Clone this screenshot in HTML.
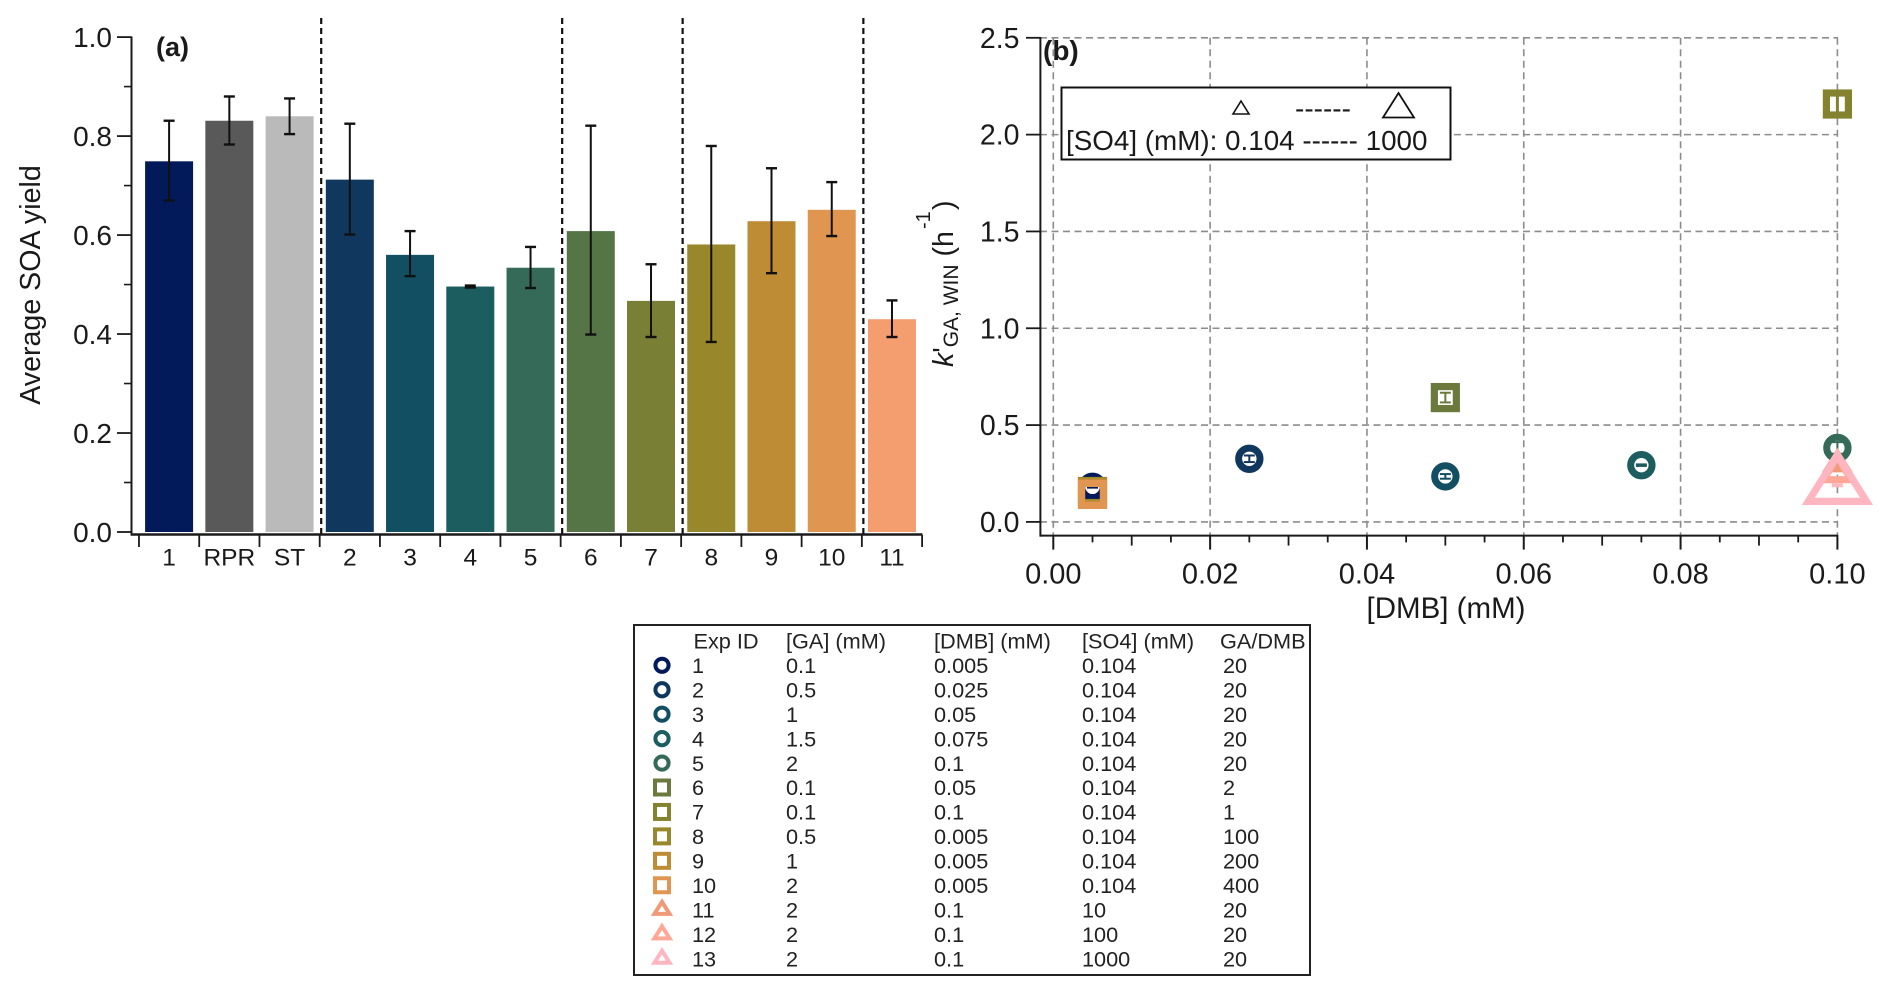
<!DOCTYPE html>
<html lang="en">
<head>
<meta charset="utf-8">
<title>SOA yield and k'GA,WIN charts</title>
<style>
html,body{margin:0;padding:0;background:#fff;width:1892px;height:994px;overflow:hidden}
svg{display:block}
text{font-family:"Liberation Sans",Arial,sans-serif;fill:#1a1a1a}
.tb text{font-size:21.7px;fill:#222;transform:translateY(-1px)}
</style>
</head>
<body>
<svg id="fig" width="1892" height="994" viewBox="0 0 1892 994" xmlns="http://www.w3.org/2000/svg">
  <g id="panelA">
    <text x="156" y="56" font-size="27" font-weight="bold">(a)</text>
    <text transform="translate(40,285) rotate(-90)" text-anchor="middle" font-size="28.6">Average SOA yield</text>
  </g>
  <g id="panelB">
    <text x="1446" y="618" text-anchor="middle" font-size="29.5">[DMB] (mM)</text>
    <g>
      <text transform="translate(953,367) rotate(-90)" font-size="28.5"><tspan font-style="italic">k</tspan><tspan>'</tspan><tspan font-size="21" dy="5">GA, WIN</tspan><tspan dy="-5"> (h</tspan></text>
      <text transform="translate(930,229) rotate(-90)" font-size="20">-1</text>
      <text transform="translate(953,210) rotate(-90)" font-size="28.5">)</text>
    </g>
  </g>
  <g id="overlayB">
    <text x="1043" y="60" font-size="28" font-weight="bold">(b)</text>
    <rect x="1061.5" y="87.5" width="389" height="72" fill="#fff" stroke="#111" stroke-width="2"/>
    <polygon points="1241,101 1249,114 1233,114" fill="none" stroke="#111" stroke-width="1.6"/>
    <text x="1295" y="118" font-size="28">------</text>
    <polygon points="1398.5,93 1414,117.5 1383,117.5" fill="none" stroke="#111" stroke-width="1.8"/>
    <text x="1066" y="150" font-size="27.8">[SO4] (mM): 0.104 ------ 1000</text>
  </g>
  <g class="tb">
    <rect x="634" y="625" width="676" height="350" fill="#fff" stroke="#222" stroke-width="2"/>
    <g id="tableMarkers"></g>
    <g><text x="693.5" y="649.5">Exp ID</text><text x="786" y="649.5">[GA] (mM)</text><text x="934" y="649.5">[DMB] (mM)</text><text x="1082" y="649.5">[SO4] (mM)</text><text x="1220" y="649.5">GA/DMB</text></g>
    <g><text x="692" y="674">1</text><text x="786" y="674">0.1</text><text x="934" y="674">0.005</text><text x="1082" y="674">0.104</text><text x="1223" y="674">20</text></g>
    <g><text x="692" y="698.4">2</text><text x="786" y="698.4">0.5</text><text x="934" y="698.4">0.025</text><text x="1082" y="698.4">0.104</text><text x="1223" y="698.4">20</text></g>
    <g><text x="692" y="722.9">3</text><text x="786" y="722.9">1</text><text x="934" y="722.9">0.05</text><text x="1082" y="722.9">0.104</text><text x="1223" y="722.9">20</text></g>
    <g><text x="692" y="747.3">4</text><text x="786" y="747.3">1.5</text><text x="934" y="747.3">0.075</text><text x="1082" y="747.3">0.104</text><text x="1223" y="747.3">20</text></g>
    <g><text x="692" y="771.8">5</text><text x="786" y="771.8">2</text><text x="934" y="771.8">0.1</text><text x="1082" y="771.8">0.104</text><text x="1223" y="771.8">20</text></g>
    <g><text x="692" y="796.2">6</text><text x="786" y="796.2">0.1</text><text x="934" y="796.2">0.05</text><text x="1082" y="796.2">0.104</text><text x="1223" y="796.2">2</text></g>
    <g><text x="692" y="820.6">7</text><text x="786" y="820.6">0.1</text><text x="934" y="820.6">0.1</text><text x="1082" y="820.6">0.104</text><text x="1223" y="820.6">1</text></g>
    <g><text x="692" y="845.1">8</text><text x="786" y="845.1">0.5</text><text x="934" y="845.1">0.005</text><text x="1082" y="845.1">0.104</text><text x="1223" y="845.1">100</text></g>
    <g><text x="692" y="869.5">9</text><text x="786" y="869.5">1</text><text x="934" y="869.5">0.005</text><text x="1082" y="869.5">0.104</text><text x="1223" y="869.5">200</text></g>
    <g><text x="692" y="894">10</text><text x="786" y="894">2</text><text x="934" y="894">0.005</text><text x="1082" y="894">0.104</text><text x="1223" y="894">400</text></g>
    <g><text x="692" y="918.4">11</text><text x="786" y="918.4">2</text><text x="934" y="918.4">0.1</text><text x="1082" y="918.4">10</text><text x="1223" y="918.4">20</text></g>
    <g><text x="692" y="942.8">12</text><text x="786" y="942.8">2</text><text x="934" y="942.8">0.1</text><text x="1082" y="942.8">100</text><text x="1223" y="942.8">20</text></g>
    <g><text x="692" y="967.3">13</text><text x="786" y="967.3">2</text><text x="934" y="967.3">0.1</text><text x="1082" y="967.3">1000</text><text x="1223" y="967.3">20</text></g>
  </g>
</svg>
<script>
// Panel (a) data
const barCategories = ['1','RPR','ST','2','3','4','5','6','7','8','9','10','11'];
const barValues = [0.749,0.831,0.840,0.712,0.560,0.496,0.534,0.608,0.467,0.581,0.628,0.651,0.430];
const barErrHigh = [0.831,0.880,0.876,0.825,0.608,0.498,0.576,0.821,0.541,0.780,0.735,0.707,0.468];
const barErrLow = [0.670,0.783,0.804,0.601,0.517,0.494,0.493,0.399,0.394,0.384,0.523,0.598,0.394];
const barColors = ['#02195a','#595959','#bababa','#10385e','#134f63','#1c5d60','#346a57','#557546','#7a7f36','#99872c','#bd8c34','#e09650','#f49e70'];
const yTicksA = ['0.0','0.2','0.4','0.6','0.8','1.0'];
const yMinorTicksA = [0.1,0.3,0.5,0.7,0.9];
const groupBreaksA = [3,7,9,12];

// Panel (b) data
const expIds = [1,2,3,4,5,6,7,8,9,10,11,12,13];
const expDMB = [0.005,0.025,0.05,0.075,0.1,0.05,0.1,0.005,0.005,0.005,0.1,0.1,0.1];
const expK = [0.181,0.326,0.235,0.293,0.382,0.642,2.158,0.157,0.150,0.142,0.300,0.258,0.189];
const expErr = [0.004,0.017,0.012,0.004,0.030,0.025,0.050,0,0,0,0,0,0.005];
const expShapes = ['circle','circle','circle','circle','circle','square','square','square','square','square','triangle','triangle','triangle'];
const expSO4 = [0.104,0.104,0.104,0.104,0.104,0.104,0.104,0.104,0.104,0.104,10,100,1000];
const expColors = ['#02195a','#10385e','#134f63','#1c5d60','#346a57','#6b7a3c','#85822f','#99872c','#bd8c34','#e09650','#ef9a78','#ffa898','#ffb6c1'];
const xTicksB = ['0.00','0.02','0.04','0.06','0.08','0.10'];
const yTicksB = ['0.0','0.5','1.0','1.5','2.0','2.5'];

// Axis functions
const yA = v => 532 - v * 494.9;
const xA = i => 169.1 + i * 60.24;
const xB = v => 1053.3 + v * 7841;
const yB = v => 521.9 - v * 193.64;
const triScale = so4 => so4 >= 1000 ? 1 : (so4 >= 100 ? 0.483 : 0.31);

const NS = 'http://www.w3.org/2000/svg';
function add(parent, tag, attrs, txt) {
  const el = document.createElementNS(NS, tag);
  for (const k in attrs) el.setAttribute(k, attrs[k]);
  if (txt !== undefined) el.textContent = txt;
  parent.appendChild(el);
  return el;
}
function ln(parent, x1, y1, x2, y2, color, w, dash) {
  const a = {x1:x1, y1:y1, x2:x2, y2:y2, stroke:color, 'stroke-width':w};
  if (dash) a['stroke-dasharray'] = dash;
  return add(parent, 'line', a);
}
const INK = '#1a1a1a';
const panelA = document.getElementById('panelA');
const panelB = document.getElementById('panelB');
const tableMarkers = document.getElementById('tableMarkers');

// ---------- Panel (a) ----------
barCategories.forEach((c, i) => {
  const x = xA(i), top = yA(barValues[i]);
  const bar = add(panelA, 'rect', {x:x-24, y:top, width:48, height:532-top, fill:barColors[i]});
  
  
});
barCategories.forEach((c, i) => {
  const x = xA(i), hi = yA(barErrHigh[i]), lo = yA(barErrLow[i]);
  const g = add(panelA, 'g', {});
  
  
  ln(g, x, hi, x, lo, '#111', 2);
  ln(g, x-5.5, hi, x+5.5, hi, '#111', 2.4);
  ln(g, x-5.5, lo, x+5.5, lo, '#111', 2.4);
});
groupBreaksA.forEach(b => {
  const x = xA(b) - 30.12 + 1.5;
  const d = ln(panelA, x, 18, x, 534, '#111', 2.2, '6 4');
  
  
});
const yAxisA = ln(panelA, 131.5, 36.5, 131.5, 535.5, INK, 2);


const xAxisA = ln(panelA, 131, 534.5, 922.5, 534.5, INK, 2.4);


yTicksA.forEach(t => {
  const y = yA(parseFloat(t));
  const tick = ln(panelA, 117, y, 131.5, y, INK, 1.8);
  
  
  const lab = add(panelA, 'text', {x:112, y:y+10, 'text-anchor':'end', 'font-size':28}, t);
  
  
});
yMinorTicksA.forEach(v => {
  const tick = ln(panelA, 124, yA(v), 131.5, yA(v), INK, 1.6);
  
  
});
barCategories.forEach((c, i) => {
  const tx = xA(i) - 30.12;
  const tick = ln(panelA, tx, 535, tx, 547, INK, 1.8);
  
  
  const lab = add(panelA, 'text', {x:xA(i), y:565.5, 'text-anchor':'middle', 'font-size':24.5}, c);
  
  
});
const endTick = ln(panelA, xA(12)+30.12, 535, xA(12)+30.12, 547, INK, 1.8);



// ---------- Panel (b) ----------
xTicksB.forEach(t => {
  const x = xB(parseFloat(t));
  const g = ln(panelB, x, 37.8, x, 535, '#8c8c8c', 1.6, '7 4.5');
  
  
  const tick = ln(panelB, x, 535, x, 549.6, INK, 2);
  
  
  const lab = add(panelB, 'text', {x:x, y:583.5, 'text-anchor':'middle', 'font-size':29}, t);
  
  
});
for (let n = 1; n < 20; n++) {
  if (n % 4 === 0) continue;
  const x = xB(n * 0.005);
  const tick = ln(panelB, x, 535, x, n % 2 === 0 ? 545.6 : 542.4, INK, 1.8);
  
  
}
yTicksB.forEach(t => {
  const y = yB(parseFloat(t));
  const g = ln(panelB, 1040, y, 1838, y, '#8c8c8c', 1.6, '7 4.5');
  
  
  const tick = ln(panelB, 1026, y, 1040.4, y, INK, 1.8);
  
  
  const lab = add(panelB, 'text', {x:1019.5, y:y+10, 'text-anchor':'end', 'font-size':28.5}, t);
  
  
});
const yAxisB = ln(panelB, 1040.4, 37, 1040.4, 536.6, INK, 2);


const xAxisB = ln(panelB, 1040, 535.6, 1838, 535.6, INK, 2);



function marker(parent, shape, cx, cy, color, opts) {
  if (shape === 'circle') {
    return add(parent, 'circle', {cx:cx, cy:cy, r:opts.r, fill:'none', stroke:color, 'stroke-width':opts.sw});
  }
  if (shape === 'square') {
    return add(parent, 'rect', {x:cx-opts.r, y:cy-opts.r, width:opts.r*2, height:opts.r*2, fill:'none', stroke:color, 'stroke-width':opts.sw});
  }
  const k = opts.k;
  const pts = [[cx, cy-30.2*k], [cx+29.1*k, cy+16.05*k], [cx-29.1*k, cy+16.05*k]].map(p => p.join(',')).join(' ');
  return add(parent, 'polygon', {points:pts, fill:'none', stroke:color, 'stroke-width':opts.sw, 'stroke-linejoin':'miter', 'stroke-miterlimit':6});
}

expIds.forEach((id, i) => {
  const x = xB(expDMB[i]), y = yB(expK[i]), col = expColors[i], shape = expShapes[i];
  const g = add(panelB, 'g', {});
  
  
  if (expErr[i] > 0) {
    const hi = yB(expK[i] + expErr[i]), lo = yB(expK[i] - expErr[i]);
    ln(g, x, hi, x, lo, col, shape === 'square' && expErr[i] > 0.04 ? 3 : 2);
    ln(g, x-5.5, hi, x+5.5, hi, col, 2);
    ln(g, x-5.5, lo, x+5.5, lo, col, 2);
  }
  marker(g, shape, x, y, col, {r: shape === 'circle' ? 10.7 : 11, sw: shape === 'circle' ? 7 : 7.2, k: triScale(expSO4[i])});
});

// Table markers
expIds.forEach((id, i) => {
  const cy = 665.3 + i * 24.44, shape = expShapes[i];
  const m = marker(tableMarkers, shape, 662, cy, expColors[i], {r: shape === 'circle' ? 6.6 : 7, sw: 4, k: 0.26});
  
  
});

// Keep annotations above series
document.getElementById('fig').appendChild(document.getElementById('overlayB'));
</script>
</body>
</html>
